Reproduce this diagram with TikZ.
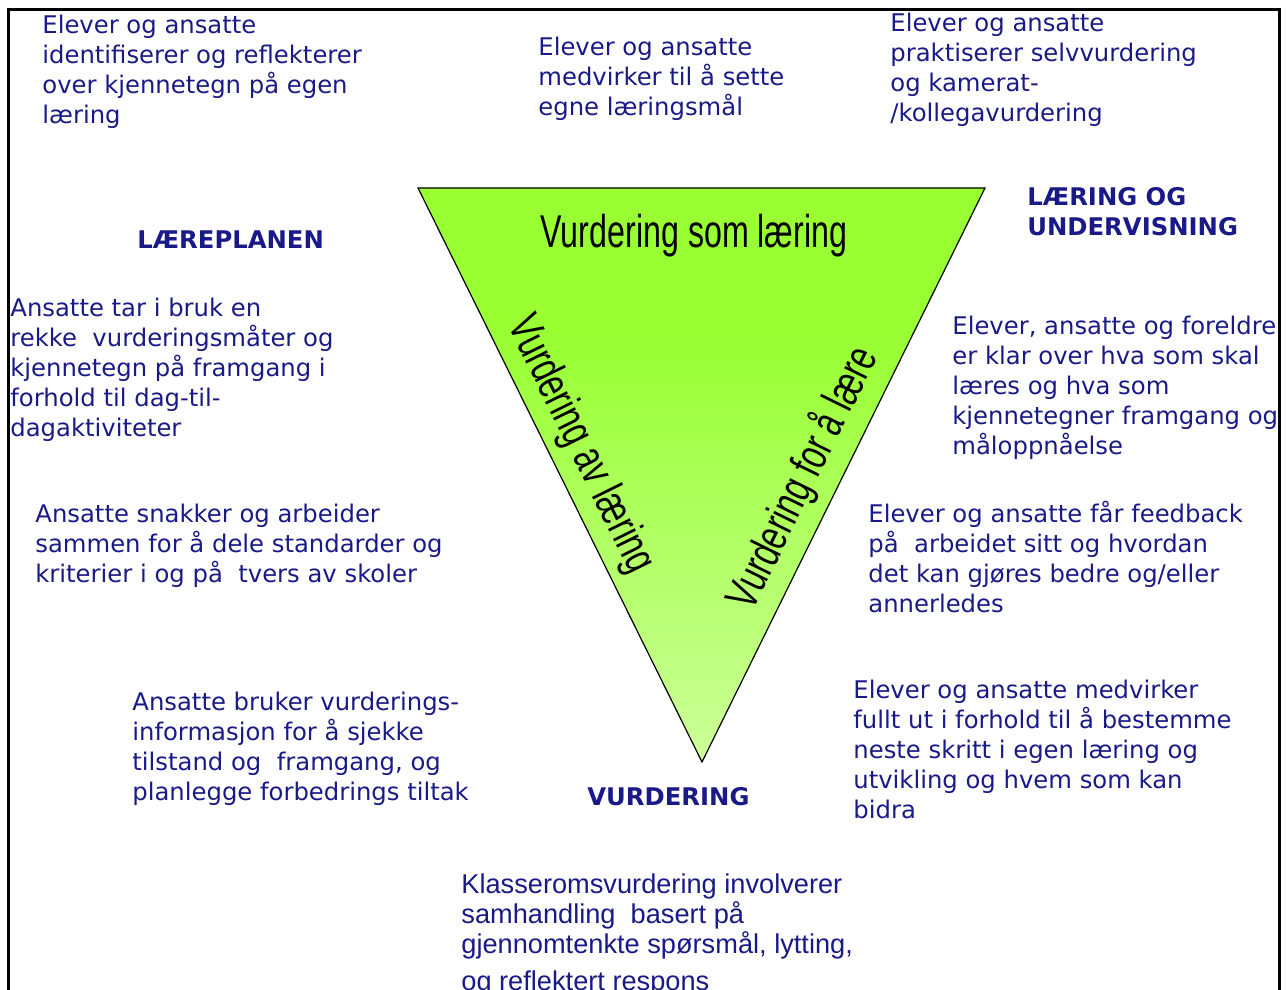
\documentclass[tikz,border=0pt]{standalone}
\usepackage{fontspec}
\setmainfont{DejaVu Sans}
\newfontfamily\narrowfont{Liberation Sans}[FakeStretch=0.7]
\newfontfamily\smallfont{Liberation Sans}
\definecolor{textblue}{RGB}{25,25,135}
\definecolor{trigreen}{RGB}{153,255,51}
\definecolor{trilight}{RGB}{204,255,153}
\pgfdeclareverticalshading{trifade}{100bp}{color(0bp)=(trilight); color(25bp)=(trilight); color(62bp)=(trigreen); color(100bp)=(trigreen)}
\begin{document}
\begin{tikzpicture}[x=0.5pt,y=-0.5pt,
  txt/.style={anchor=north west, inner sep=0pt, align=left, text=textblue,
    font=\fontsize{12.15}{15}\selectfont},
  head/.style={txt, font=\fontsize{12.15}{15}\selectfont\bfseries},
  side/.style={inner sep=0pt, font=\narrowfont\fontsize{23}{26}\selectfont}]
  \useasboundingbox (0,0) rectangle (1286,990);

  % the triangle
  \coordinate (tl) at (418,188);
  \coordinate (tr) at (985,188);
  \coordinate (tip) at (702,762);
  \shade [shading=trifade, draw=black, line width=0.6pt] (tl) -- (tr) -- (tip) -- cycle;
  \node [side, anchor=base] (som) at (694,248) {Vurdering som læring};
  \node [side, rotate=-63.7] (av) at (580,445) {Vurdering av læring};
  \node [side, rotate=63.8] (for) at (803,478) {Vurdering for å lære};

  \begin{scope}
  \clip (8,0) rectangle (1279,990);
  % corner headings
  \node [head] (plan) at (137,230) {LÆREPLANEN};
  \node [head] (laering) at (1027,187) {LÆRING OG\\UNDERVISNING};
  \node [head] (vurd) at (587,787) {VURDERING};

  % top row
  \node [txt] (t1) at (42,15) {Elever og ansatte\\identifiserer og reflekterer\\over kjennetegn på egen\\læring};
  \node [txt] (t2) at (538,37) {Elever og ansatte\\medvirker til å sette\\egne læringsmål};
  \node [txt] (t3) at (890,13) {Elever og ansatte\\praktiserer selvvurdering\\og kamerat-\\/kollegavurdering};

  % left side
  \node [txt] (l1) at (10,298) {Ansatte tar i bruk en\\rekke\ \ vurderingsmåter og\\kjennetegn på framgang i\\forhold til dag-til-\\dagaktiviteter};
  \node [txt] (l2) at (35,504) {Ansatte snakker og arbeider\\sammen for å dele standarder og\\kriterier i og på\ \ tvers av skoler};
  \node [txt] (l3) at (132,692) {Ansatte bruker vurderings-\\informasjon for å sjekke\\tilstand og\ \ framgang, og\\planlegge forbedrings tiltak};

  % right side
  \node [txt] (r1) at (952,316) {Elever, ansatte og foreldre\\er klar over hva som skal\\læres og hva som\\kjennetegner framgang og\\måloppnåelse};
  \node [txt] (r2) at (868,501) {Elever og ansatte får feedback\\på\ \ arbeidet sitt og hvordan\\det kan gjøres bedre og/eller\\annerledes};
  \node [txt] (r3) at (853,680) {Elever og ansatte medvirker\\fullt ut i forhold til å bestemme\\neste skritt i egen læring og\\utvikling og hvem som kan\\bidra};

  % bottom
  \node [txt, font=\smallfont\fontsize{13.6}{15}\selectfont] (b1) at (461,873) {Klasseromsvurdering involverer\\samhandling\ \ basert på\\gjennomtenkte spørsmål, lytting,\\[3.5pt]og reflektert respons};
  \end{scope}

  % frame
  \draw [line width=1.5pt] (8,990) -- (8,10) -- (1279,10) -- (1279,990);
\end{tikzpicture}
\end{document}
